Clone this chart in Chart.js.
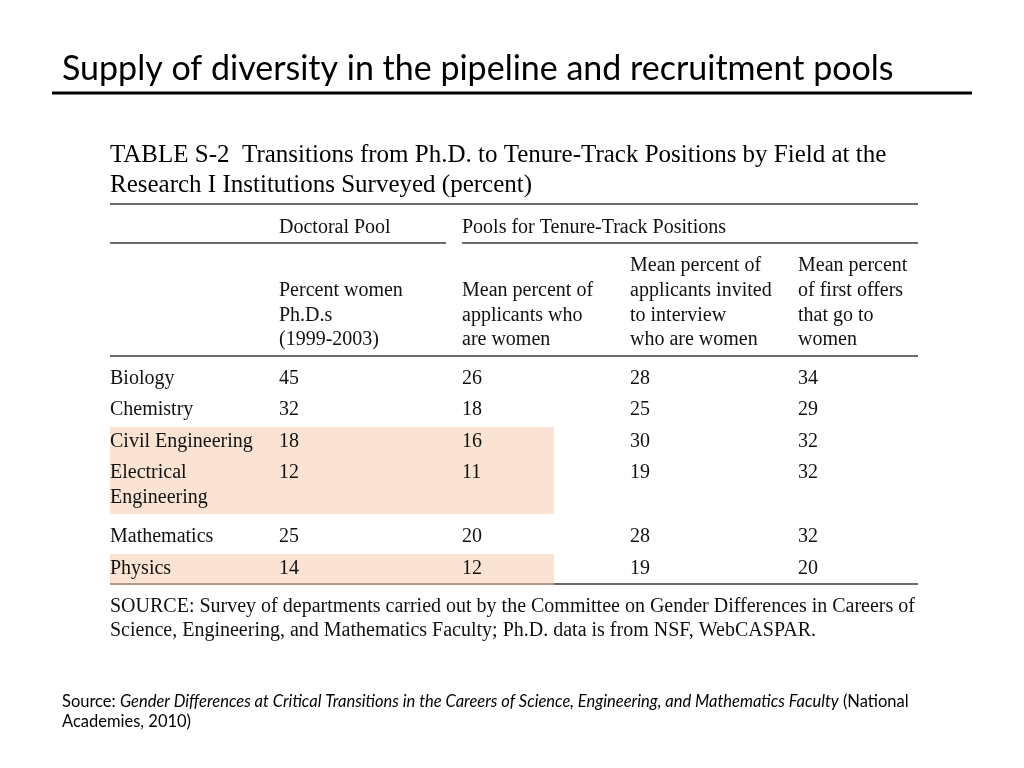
<!DOCTYPE html>
<html>
<head>
<meta charset="utf-8">
<script src="https://cdn.jsdelivr.net/npm/chart.js@4.4.0/dist/chart.umd.min.js"></script>
<style>
  html, body { margin: 0; padding: 0; background: #fff; }
  #tableChart { display: block; }
</style>
</head>
<body>
<canvas id="tableChart" width="1024" height="768"></canvas>
<script>
// table data
const fields = ['Biology', 'Chemistry', 'Civil Engineering', 'Electrical\nEngineering', 'Mathematics', 'Physics'];
const pctWomenPhD = [45, 32, 18, 12, 25, 14];
const pctApplicants = [26, 18, 16, 11, 20, 12];
const pctInterviewed = [28, 25, 30, 19, 28, 19];
const pctFirstOffers = [34, 29, 32, 32, 32, 20];
const highlightedRows = [false, false, true, true, false, true];

const groupHeaders = ['Doctoral Pool', 'Pools for Tenure-Track Positions'];
const columnHeaders = [
    'Percent women\nPh.D.s\n(1999-2003)',
    'Mean percent of\napplicants who\nare women',
    'Mean percent of\napplicants invited\nto interview\nwho are women',
    'Mean percent\nof first offers\nthat go to\nwomen'
];

const slideTitle = 'Supply of diversity in the pipeline and recruitment pools';
const tableTitle = ['TABLE S-2  Transitions from Ph.D. to Tenure-Track Positions by Field at the',
                    'Research I Institutions Surveyed (percent)'];
const tableNote = ['SOURCE: Survey of departments carried out by the Committee on Gender Differences in Careers of',
                   'Science, Engineering, and Mathematics Faculty; Ph.D. data is from NSF, WebCASPAR.'];
const sourceItalic = 'Gender Differences at Critical Transitions in the Careers of Science, Engineering, and Mathematics Faculty';

// layout (in slide units, mapped through the chart scales)
const colX = [110, 279, 462, 630, 798];
const tableLeft = 110, tableRight = 918;
const rowY = [377, 408, 440, 471, 535, 567];
const lineGap = 25;
const textNudge = 2; // canvas 'middle' sits a bit high for this serif
const serif = "'Liberation Serif', 'Times New Roman', serif";
const sans = "Lato, 'Open Sans', sans-serif";

const columns = [pctWomenPhD, pctApplicants, pctInterviewed, pctFirstOffers];

const tablePlugin = {
    id: 'tablePlugin',
    afterDraw(chart) {
        const ctx = chart.ctx;
        const sx = v => chart.scales.x.getPixelForValue(v);
        const sy = v => chart.scales.y.getPixelForValue(v);

        function hline(x1, x2, y, w, color) {
            ctx.beginPath();
            ctx.strokeStyle = color;
            ctx.lineWidth = w;
            ctx.moveTo(sx(x1), sy(y));
            ctx.lineTo(sx(x2), sy(y));
            ctx.stroke();
        }
        function text(str, x, y, font) {
            ctx.font = font;
            ctx.fillText(str, sx(x), sy(y));
        }

        ctx.save();
        ctx.fillStyle = '#000';
        ctx.textBaseline = 'middle';
        ctx.textAlign = 'left';

        // slide title
        text(slideTitle, 62, 69, '34px ' + sans);
        hline(52, 972, 93, 3, '#000');

        // table title
        tableTitle.forEach((t, i) => text(t, 110, 153 + textNudge + i * 30, '25px ' + serif));

        // rules
        const ruleColor = '#3a3a3a';
        hline(tableLeft, tableRight, 204, 1.5, ruleColor);
        hline(tableLeft, 446, 243, 1.5, ruleColor);
        hline(462, tableRight, 243, 1.5, ruleColor);
        hline(tableLeft, tableRight, 356, 1.5, ruleColor);
        hline(tableLeft, tableRight, 584, 1.5, ruleColor);

        // highlighted rows
        ctx.fillStyle = 'rgba(247, 200, 168, 0.5)';
        rowY.forEach((y, r) => {
            if (!highlightedRows[r]) return;
            const lines = fields[r].split('\n').length;
            const top = y - 13;
            const bottom = y + (lines - 1) * lineGap + 18;
            ctx.fillRect(sx(110), sy(top), sx(554) - sx(110), sy(bottom) - sy(top));
        });
        ctx.fillStyle = '#111';

        const bodyFont = '20px ' + serif;
        // group headers
        text(groupHeaders[0], colX[1], 226 + textNudge, bodyFont);
        text(groupHeaders[1], colX[2], 226 + textNudge, bodyFont);

        // column headers, bottom aligned
        columnHeaders.forEach((h, c) => {
            const lines = h.split('\n');
            lines.forEach((l, i) => {
                text(l, colX[c + 1], 338 + textNudge - (lines.length - 1 - i) * 24.7, bodyFont);
            });
        });

        // body rows
        fields.forEach((f, r) => {
            f.split('\n').forEach((l, i) => text(l, colX[0], rowY[r] + textNudge + i * lineGap, bodyFont));
            columns.forEach((col, c) => text(String(col[r]), colX[c + 1], rowY[r] + textNudge, bodyFont));
        });

        // table note
        tableNote.forEach((t, i) => text(t, 110, 605 + textNudge + i * 24, bodyFont));

        // slide source
        ctx.fillStyle = '#000';
        const srcSize = '16.5px ';
        let x = sx(62);
        const y1 = sy(702);
        ctx.font = srcSize + sans;
        ctx.fillText('Source: ', x, y1);
        x += ctx.measureText('Source: ').width;
        ctx.font = 'italic ' + srcSize + sans;
        ctx.fillText(sourceItalic, x, y1);
        x += ctx.measureText(sourceItalic).width;
        ctx.font = srcSize + sans;
        ctx.fillText(' (National', x, y1);
        text('Academies, 2010)', 62, 722, srcSize + sans);

        ctx.restore();
    }
};

new Chart(document.getElementById('tableChart'), {
    type: 'scatter',
    data: {
        datasets: [{
            data: [],
            pointRadius: 0
        }]
    },
    options: {
        responsive: false,
        animation: false,
        layout: { padding: 0 },
        plugins: {
            legend: { display: false },
            tooltip: { enabled: false }
        },
        scales: {
            x: { type: 'linear', min: 0, max: 1024, display: false },
            y: { type: 'linear', min: 0, max: 768, reverse: true, display: false }
        }
    },
    plugins: [tablePlugin]
});
</script>
</body>
</html>
